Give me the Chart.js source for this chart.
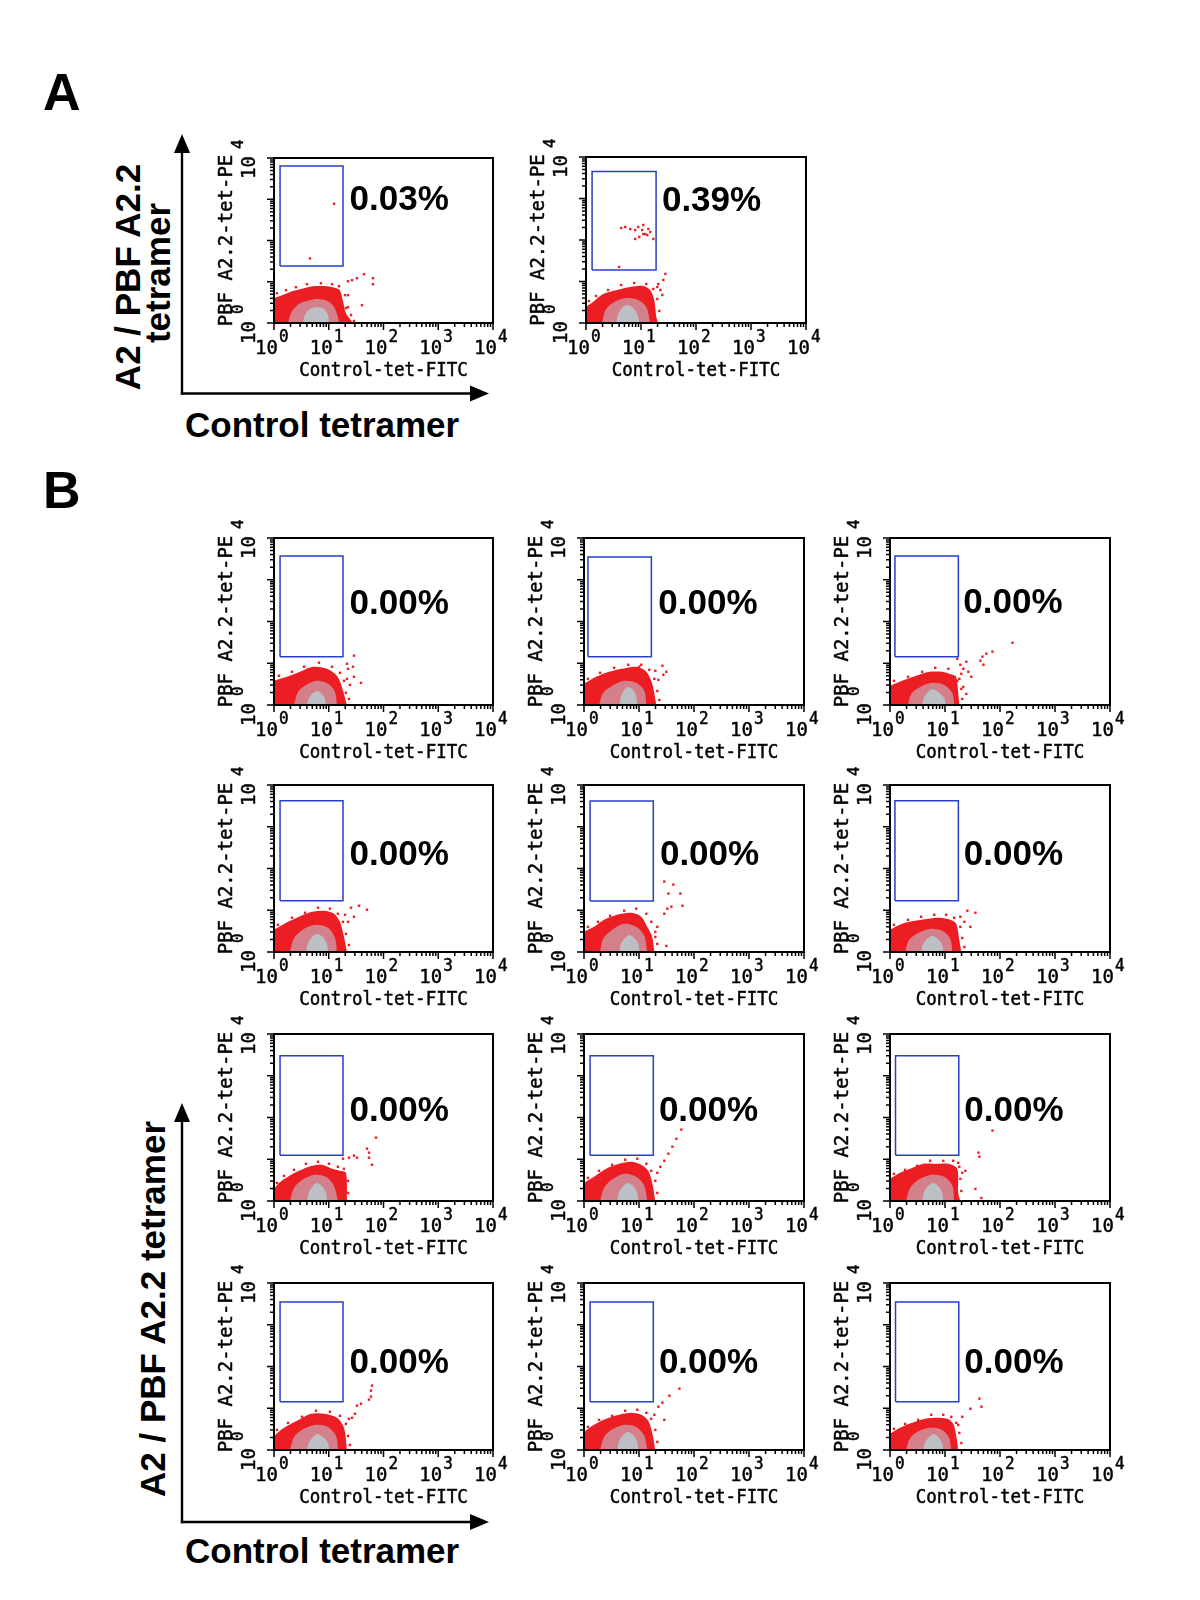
<!DOCTYPE html>
<html>
<head>
<meta charset="UTF-8">
<title>PBF A2.2 tetramer staining</title>
<style>
html, body { margin: 0; padding: 0; background: #fff; }
#fig { position: relative; width: 1200px; height: 1600px; overflow: hidden; background: #fff; }
#fig svg { position: absolute; left: 0; top: 0; }
#fig canvas { position: absolute; }
</style>
</head>
<body>
<script src="https://cdn.jsdelivr.net/npm/chart.js"></script>

<div id="fig">
<svg width="1200" height="1600" font-family="Liberation Sans, Arial, Helvetica, sans-serif" font-weight="bold">
  <text x="43" y="110" font-size="52">A</text>
  <text x="43" y="508" font-size="52">B</text>
  <text transform="translate(140 277) rotate(-90)" text-anchor="middle" font-size="35">A2 / PBF A2.2</text>
  <text transform="translate(170 273) rotate(-90)" text-anchor="middle" font-size="35">tetramer</text>
  <text x="185" y="437" font-size="35">Control tetramer</text>
  <text transform="translate(165 1309) rotate(-90)" text-anchor="middle" font-size="35">A2 / PBF A2.2 tetramer</text>
  <text x="185" y="1563" font-size="35">Control tetramer</text>
  <g stroke="#000" stroke-width="2.4">
    <line x1="182" y1="394.7" x2="182" y2="150"/>
    <line x1="180.8" y1="393.5" x2="472" y2="393.5"/>
    <line x1="182" y1="1523.2" x2="182" y2="1120"/>
    <line x1="180.8" y1="1522" x2="472" y2="1522"/>
  </g>
  <g fill="#000">
    <polygon points="182,134 174,153 190,153"/>
    <polygon points="489,393.5 470,385.5 470,401.5"/>
    <polygon points="182,1103 174,1122 190,1122"/>
    <polygon points="489,1522 470,1514 470,1530"/>
  </g>
</svg>
</div>

<script>
// ---- data (fluorescence units) ----
const plotNames = ['A-1', 'A-2', 'B-1', 'B-2', 'B-3', 'B-4', 'B-5', 'B-6', 'B-7', 'B-8', 'B-9', 'B-10', 'B-11', 'B-12'];
const percentText = ['0.03%', '0.39%', '0.00%', '0.00%', '0.00%', '0.00%', '0.00%', '0.00%',
                     '0.00%', '0.00%', '0.00%', '0.00%', '0.00%', '0.00%'];
// where the percentage sits (x, y in data units, left / middle anchored)
const percentAt = [[24, 920], [24, 870], [24, 260], [22.5, 260], [21.5, 270], [24, 211], [24, 211], [22, 211],
                   [24, 143], [23, 143], [22.5, 143], [24, 118], [23, 118], [22.5, 118]];
// gate: x from, x to, y from, y to
const gates = [
  [1.29, 18.2, 24, 6400], [1.29, 18.8, 19, 4500],
  [1.29, 18.2, 14.4, 3700], [1.18, 16.8, 14.4, 3500], [1.23, 17.5, 14.4, 3700],
  [1.29, 18.2, 17, 4200], [1.29, 18.2, 16.6, 4150], [1.23, 17.5, 17, 4200],
  [1.29, 18.2, 12.5, 3000], [1.29, 18.2, 12.5, 3000], [1.26, 17.8, 12.5, 3000],
  [1.29, 18.2, 14.4, 3500], [1.29, 18.2, 14.4, 3500], [1.26, 17.8, 14.4, 3500]
];
// upper edge of the dense red population
const redTop = [
  [[1, 4.0], [1.4, 4.73], [2.13, 5.9], [2.98, 6.6], [5.16, 7.79], [9.3, 7.79], [13.6, 6.97], [16.0, 6.24], [18.2, 3.39], [20.6, 1.74], [24.4, 1.25], [27.7, 1]],
  [[1, 2.43], [1.34, 3.21], [2.04, 5.0], [3.68, 6.24], [6.37, 7.37], [11.0, 7.79], [14.7, 6.24], [17.4, 3.58], [19.0, 1.4], [20.6, 1]],
  [[1, 3.79], [1.29, 4.23], [1.73, 4.73], [2.98, 6.24], [5.16, 8.24], [9.3, 7.37], [14.1, 5.0], [17.4, 2.71], [21.5, 1]],
  [[1, 3.21], [1.66, 4.73], [2.86, 6.24], [4.94, 7.37], [8.9, 8.24], [13.6, 6.24], [17.4, 3.21], [20.6, 1]],
  [[1, 2.87], [1.66, 3.79], [2.98, 5.0], [5.16, 6.24], [8.9, 6.24], [13.6, 5.28], [16.0, 4.73], [17.4, 1.95], [18.2, 1]],
  [[1, 3.39], [1.66, 5.0], [2.86, 7.0], [4.94, 9.2], [8.18, 9.73], [12.5, 8.24], [16.0, 5.28], [19.0, 2.3], [21.5, 1]],
  [[1, 3.03], [1.52, 4.0], [2.32, 5.9], [4.0, 7.79], [7.2, 8.71], [11.0, 6.97], [14.1, 4.0], [17.4, 2.3], [19.0, 1]],
  [[1, 3.39], [1.66, 4.73], [2.86, 5.58], [4.94, 6.24], [8.18, 6.6], [12.5, 5.9], [16.0, 4.73], [18.2, 1.95], [19.8, 1]],
  [[1, 1.95], [1.23, 2.71], [1.66, 3.58], [2.86, 5.28], [4.94, 6.97], [7.52, 7.37], [11.5, 5.9], [16.0, 5.28], [20.6, 4.73], [21.5, 1]],
  [[1, 2.71], [1.52, 3.79], [2.52, 5.9], [4.36, 7.79], [7.2, 8.71], [11.0, 7.37], [14.7, 5.28], [17.4, 2.71], [19.8, 1]],
  [[1, 3.39], [1.52, 4.73], [2.32, 5.9], [4.0, 7.79], [7.2, 7.79], [11.5, 7.79], [16.7, 5.9], [17.4, 1.56], [19.0, 1]],
  [[1, 2.17], [1.52, 3.39], [2.63, 5.0], [4.74, 7.37], [8.18, 7.37], [14.1, 5.9], [19.0, 3.39], [21.5, 1]],
  [[1, 2.71], [1.52, 4.0], [2.52, 5.58], [4.36, 6.97], [7.2, 7.79], [11.0, 6.97], [14.7, 5.0], [17.4, 2.57], [19.8, 1]],
  [[1, 2.43], [1.52, 3.39], [2.52, 4.47], [4.36, 5.58], [7.2, 5.9], [11.0, 5.58], [14.1, 4.23], [16.0, 2.17], [17.4, 1]]
];
// upper edge of the darker (overlapping) zone
const midTop = [
  [[1.8, 1], [2.13, 1.95], [2.98, 3.03], [4.54, 3.58], [6.63, 3.79], [9.7, 3.39], [12.5, 2.43], [14.7, 1.4], [15.4, 1]],
  [[1.96, 1], [2.32, 2.17], [3.53, 3.39], [5.61, 4.0], [8.9, 3.58], [12.5, 2.43], [14.7, 1]],
  [[2.32, 1], [2.74, 2.06], [3.84, 3.03], [6.1, 3.79], [9.7, 3.21], [13.0, 2.06], [14.1, 1]],
  [[1.88, 1], [2.22, 1.95], [3.25, 2.87], [5.37, 3.79], [8.9, 3.39], [12.5, 2.17], [13.6, 1]],
  [[2.13, 1], [2.42, 1.84], [3.53, 2.71], [5.84, 3.39], [9.7, 3.03], [13.6, 1.95], [14.7, 1]],
  [[1.96, 1], [2.32, 2.17], [3.53, 3.58], [5.84, 4.47], [9.7, 3.79], [13.0, 2.17], [14.1, 1]],
  [[1.96, 1], [2.22, 2.06], [3.25, 3.39], [5.37, 4.73], [8.9, 4.0], [12.5, 2.43], [14.1, 1]],
  [[1.88, 1], [2.22, 1.95], [3.25, 2.87], [5.37, 3.58], [8.9, 3.21], [12.5, 2.06], [13.6, 1]],
  [[1.96, 1], [2.32, 2.06], [3.53, 3.39], [5.61, 4.23], [8.9, 3.79], [12.5, 2.3], [14.7, 1]],
  [[1.96, 1], [2.32, 2.06], [3.39, 3.39], [5.61, 4.47], [8.9, 3.79], [12.5, 2.3], [14.1, 1]],
  [[1.96, 1], [2.32, 2.06], [3.53, 3.39], [5.84, 4.23], [9.7, 3.79], [13.6, 2.3], [14.7, 1]],
  [[1.96, 1], [2.32, 2.06], [3.53, 3.21], [5.84, 4.0], [9.7, 3.58], [13.6, 2.17], [14.7, 1]],
  [[1.96, 1], [2.32, 2.06], [3.39, 3.21], [5.61, 4.0], [8.9, 3.58], [12.5, 2.17], [14.1, 1]],
  [[1.96, 1], [2.32, 1.95], [3.39, 2.87], [5.61, 3.39], [8.9, 3.03], [11.9, 1.95], [13.0, 1]]
];
// upper edge of the grey, densest core
const coreTop = [
  [[3.39, 1], [3.68, 1.56], [4.54, 2.17], [6.1, 2.43], [8.18, 2.17], [9.7, 1.56], [10.1, 1]],
  [[3.53, 1], [3.84, 1.65], [4.54, 2.3], [5.61, 2.71], [7.2, 2.3], [8.54, 1.65], [9.3, 1]],
  [[4.0, 1], [4.36, 1.47], [4.94, 1.84], [6.1, 2.17], [7.52, 1.84], [8.54, 1.4], [8.9, 1]],
  [[4.36, 1], [4.74, 1.65], [5.37, 2.3], [6.37, 2.71], [7.84, 2.3], [8.9, 1.65], [9.3, 1]],
  [[3.84, 1], [4.18, 1.56], [4.94, 2.06], [5.84, 2.43], [7.52, 2.06], [9.7, 1.47], [10.5, 1]],
  [[3.84, 1], [4.18, 1.65], [4.94, 2.3], [6.1, 2.71], [7.84, 2.3], [9.3, 1.56], [9.7, 1]],
  [[4.36, 1], [4.74, 1.65], [5.61, 2.17], [6.63, 2.57], [8.18, 2.17], [9.7, 1.56], [10.1, 1]],
  [[3.68, 1], [4.0, 1.56], [4.74, 2.06], [5.84, 2.43], [7.52, 2.06], [8.9, 1.47], [9.3, 1]],
  [[4.0, 1], [4.36, 1.65], [5.16, 2.3], [6.1, 2.71], [7.52, 2.3], [8.9, 1.56], [9.3, 1]],
  [[4.0, 1], [4.36, 1.65], [5.16, 2.3], [6.37, 2.71], [7.84, 2.3], [9.3, 1.56], [9.7, 1]],
  [[3.84, 1], [4.18, 1.65], [4.94, 2.3], [6.1, 2.71], [7.52, 2.3], [8.9, 1.56], [9.3, 1]],
  [[4.0, 1], [4.36, 1.56], [5.16, 2.06], [6.1, 2.43], [7.84, 2.06], [9.7, 1.47], [10.1, 1]],
  [[4.0, 1], [4.36, 1.65], [5.16, 2.3], [6.37, 2.71], [7.84, 2.3], [9.3, 1.56], [9.7, 1]],
  [[4.0, 1], [4.36, 1.56], [5.16, 2.06], [6.1, 2.43], [7.52, 2.06], [8.9, 1.47], [9.3, 1]]
];
// sparse cells scattered along the rim of the dense population
const rimEvents = [
  [[1.13, 5.28], [1.66, 6.24], [2.52, 7.37], [4.0, 8.71], [7.2, 9.2], [11.5, 8.71], [15.4, 7.79], [19.8, 4.73], [22.5, 2.43], [25.5, 1.56]],
  [[1.13, 3.39], [1.52, 4.47], [2.52, 6.24], [4.36, 8.24], [7.52, 9.2], [12.5, 8.71], [16.7, 6.6], [19.8, 3.79], [21.5, 1.95]],
  [[1.23, 5.0], [2.13, 6.24], [3.53, 8.24], [6.63, 10.3], [11.5, 8.24], [16.0, 5.9], [19.0, 3.79], [20.6, 1.95], [23.4, 1.4]],
  [[1.18, 4.23], [1.96, 5.9], [3.53, 7.79], [6.37, 9.2], [11.0, 9.2], [15.4, 6.97], [19.0, 4.23], [21.5, 2.17], [23.4, 1.32]],
  [[1.18, 3.79], [2.13, 4.73], [3.84, 6.24], [6.63, 7.79], [11.5, 7.37], [18.2, 4.23], [19.8, 2.43], [20.6, 1.4]],
  [[1.18, 4.47], [2.13, 6.6], [3.68, 8.71], [6.37, 11.5], [10.5, 10.9], [14.7, 8.24], [18.2, 5.28], [20.6, 2.71], [23.4, 1.47]],
  [[1.18, 4.0], [1.8, 5.28], [2.98, 7.37], [5.37, 9.73], [8.9, 10.9], [13.6, 8.24], [16.7, 5.28], [19.8, 3.03], [21.5, 1.56]],
  [[1.18, 4.47], [2.13, 5.9], [3.68, 6.97], [6.37, 7.79], [10.5, 7.79], [14.7, 6.6], [19.0, 4.0], [20.6, 2.17], [22.5, 1.32]],
  [[1.13, 2.71], [1.52, 4.0], [2.32, 5.58], [3.84, 7.79], [6.37, 8.71], [10.1, 7.79], [14.7, 6.6], [19.0, 5.9], [22.5, 3.03], [22.5, 1.56]],
  [[1.18, 3.58], [1.88, 5.28], [3.25, 7.37], [5.61, 9.73], [9.3, 10.3], [13.6, 7.79], [16.7, 5.28], [19.8, 3.03], [21.5, 1.56]],
  [[1.18, 4.47], [1.88, 5.58], [3.11, 6.97], [5.37, 9.2], [9.3, 9.2], [14.1, 9.2], [18.2, 6.6], [19.0, 3.39], [19.8, 1.74]],
  [[1.13, 3.03], [1.8, 4.47], [3.25, 6.24], [5.84, 8.71], [10.5, 8.24], [16.0, 6.6], [20.6, 4.23], [22.5, 2.17], [24.4, 1.32]],
  [[1.18, 3.58], [1.88, 5.28], [3.25, 6.6], [5.61, 8.71], [9.3, 9.2], [13.6, 7.79], [16.7, 5.58], [19.8, 3.03], [21.5, 1.56]],
  [[1.18, 3.21], [1.88, 4.23], [3.25, 5.28], [5.61, 6.97], [9.3, 6.97], [13.0, 6.24], [16.0, 4.47], [18.2, 2.57], [19.8, 1.47]]
];
// single events away from the population
const events = [
  [[12.5, 779], [4.54, 36.8], [22.5, 10.3], [26.6, 10.9], [32.8, 12.2], [44, 15.2], [64.2, 12.2], [64.2, 8.71], [40.5, 2.71], [22.5, 4.73], [20.6, 2.3], [28.9, 1.12]],
  [[4.36, 195], [5.16, 206], [6.37, 184], [7.84, 174], [8.9, 206], [10.5, 174], [11.0, 230], [11.9, 139], [13.0, 132], [13.6, 184], [14.7, 156], [16.7, 106],
   [7.84, 106], [9.3, 118], [11.0, 139], [4.0, 22.4], [27.7, 15.2], [25.5, 10.9], [20.6, 8.71], [19.8, 7.37], [24.4, 4.73], [22.5, 6.24]],
  [[21.5, 9.73], [28.9, 15.2], [22.5, 7.37], [27.7, 8.24], [21.5, 4.23], [38.8, 3.39], [28.9, 4.73], [24.4, 3.03]],
  [[26.6, 8.71], [31.4, 6.24], [27.7, 5.28], [10.1, 8.24], [22.5, 4.0], [19.8, 6.6]],
  [[16.7, 3.79], [19.8, 5.58], [21.5, 7.37], [24.4, 10.9], [26.6, 6.24], [21.5, 2.71], [24.4, 1.84], [30.1, 4.73], [44, 11.5], [47.9, 14.4],
   [56.6, 17.0], [72.9, 19.0], [50, 9.2], [169, 31], [16.7, 12.8], [19.0, 9.2]],
  [[25.5, 11.5], [35.7, 12.8], [50, 10.3], [19.8, 7.79], [22.5, 5.28], [28.9, 6.97]],
  [[28.9, 48.6], [42.2, 41.1], [34.2, 25], [56.6, 25], [28.9, 8.24], [32.8, 10.9], [38.8, 12.2], [61.6, 12.8], [21.5, 4.0], [31.4, 1.4], [19.8, 2.3]],
  [[25.5, 9.73], [35.7, 8.71], [19.0, 6.97], [22.5, 5.28], [28.9, 4.0]],
  [[72.9, 32.9], [50, 17.9], [54.3, 14.4], [61.6, 7.37], [23.4, 10.9], [28.9, 12.2], [32.8, 10.9], [18.2, 10.3], [54.3, 10.9]],
  [[59, 51.4], [47.9, 31], [40.5, 20], [34.2, 13.6], [28.9, 9.2], [24.4, 6.6], [21.5, 4.73]],
  [[72.9, 48.6], [40.5, 14.4], [42.2, 11.5], [17.4, 8.24], [20.6, 4.73], [23.4, 5.28], [35.7, 1.95], [45.9, 1.18]],
  [[61.6, 34.8], [59, 26.4], [59, 19.0], [54.3, 16.1], [38.8, 12.8], [32.8, 11.5], [30.1, 7.37], [26.6, 5.9], [23.4, 5.58]],
  [[54.3, 29.5], [35.7, 20], [22.5, 10.9], [26.6, 13.6], [19.0, 6.97], [28.9, 5.28]],
  [[42.2, 17.0], [28.9, 9.73], [45.9, 10.9], [20.6, 6.24], [17.4, 4.0]]
];
const decades = [1, 10, 100, 1000, 10000];
const decadeExp = ['0', '1', '2', '3', '4'];
const xTitle = 'Control-tet-FITC';
const yTitle = 'PBF A2.2-tet-PE';

// ---- layout (plot frame: left, top, width, height in page px) ----
const rowTop = [538, 785, 1034, 1283];
const colLeft = [274, 584, 890];
const frames = [[274, 158, 219, 165], [586, 157, 220, 166]];
rowTop.forEach(t => colLeft.forEach((l, c) => frames.push([l, t, c === 0 ? 219 : 220, 167])));

const RED = 'rgb(236,30,36)';
const MID = 'rgb(212,128,138)';
const CORE = 'rgb(188,192,196)';
const GATE = 'rgb(40,62,206)';
const MONO = '"DejaVu Sans Mono", "Liberation Mono", monospace';
const SANS = '"Liberation Sans", Arial, Helvetica, sans-serif';
const PAD = { left: 80, top: 35, right: 32, bottom: 62 };

const toXY = p => ({ x: p[0], y: p[1] });

// cytometer print: slightly tall, slightly heavy
function monoText(ctx, txt, x, y, size, align, rotate, sy) {
	ctx.save();
	ctx.translate(x, y);
	if (rotate) ctx.rotate(-Math.PI / 2);
	ctx.scale(1, sy || 1);
	ctx.font = size + 'px ' + MONO;
	ctx.textAlign = align;
	ctx.textBaseline = 'alphabetic';
	ctx.lineWidth = 0.45;
	ctx.fillText(txt, 0, 0);
	ctx.strokeText(txt, 0, 0);
	ctx.restore();
}

function axesPlugin(i) {
	return {
		id: 'flowAxes',
		afterDraw(chart) {
			const { ctx, chartArea: a, scales: { x, y } } = chart;
			ctx.save();
			ctx.fillStyle = '#000';
			ctx.strokeStyle = '#000';

			// frame
			ctx.lineWidth = 2;
			ctx.strokeRect(a.left, a.top, a.right - a.left, a.bottom - a.top);

			// log ticks, outside, on bottom and left
			ctx.lineWidth = 1.5;
			ctx.beginPath();
			decades.slice(0, 4).forEach(d => {
				for (let k = 1; k < 10; k++) {
					const len = k === 1 ? 7 : 4;
					const px = x.getPixelForValue(d * k);
					const py = y.getPixelForValue(d * k);
					ctx.moveTo(px, a.bottom); ctx.lineTo(px, a.bottom + len);
					ctx.moveTo(a.left, py); ctx.lineTo(a.left - len, py);
				}
			});
			ctx.moveTo(x.getPixelForValue(10000), a.bottom); ctx.lineTo(x.getPixelForValue(10000), a.bottom + 7);
			ctx.moveTo(a.left, y.getPixelForValue(10000)); ctx.lineTo(a.left - 7, y.getPixelForValue(10000));
			ctx.stroke();

			// x tick labels 10^n
			decades.forEach((d, j) => {
				const px = x.getPixelForValue(d) - 19;
				monoText(ctx, '10', px, a.bottom + 31, 19, 'left', false, 1.05);
				monoText(ctx, decadeExp[j], px + 24, a.bottom + 19, 16, 'left', false, 1.05);
			});
			monoText(ctx, xTitle, (a.left + a.right) / 2, a.bottom + 53, 17.5, 'center', false, 1.08);

			// y tick labels (only first and last decade), rotated
			[0, 4].forEach(j => {
				const py = y.getPixelForValue(decades[j]);
				monoText(ctx, '10', a.left - 19, py + 21, 19, 'left', true);
				monoText(ctx, decadeExp[j], a.left - 31, py - 9, 16, 'left', true);
			});
			monoText(ctx, yTitle, a.left - 42, (a.top + a.bottom) / 2, 19, 'center', true);

			// gate frequency
			ctx.font = 'bold 35px ' + SANS;
			ctx.textAlign = 'left';
			ctx.textBaseline = 'middle';
			ctx.fillText(percentText[i], x.getPixelForValue(percentAt[i][0]), y.getPixelForValue(percentAt[i][1]));
			ctx.restore();
		}
	};
}

function buildPlot(i) {
	const [L, T, W, H] = frames[i];
	const cv = document.createElement('canvas');
	cv.id = 'plot-' + plotNames[i];
	cv.width = W + PAD.left + PAD.right;
	cv.height = H + PAD.top + PAD.bottom;
	cv.style.left = (L - PAD.left) + 'px';
	cv.style.top = (T - PAD.top) + 'px';
	cv.style.width = cv.width + 'px';
	cv.style.height = cv.height + 'px';
	document.getElementById('fig').appendChild(cv);

	const g = gates[i];
	const gatePts = [[g[0], g[2]], [g[0], g[3]], [g[1], g[3]], [g[1], g[2]], [g[0], g[2]]];
	const area = (pts, color, order) => ({
		data: pts.map(toXY), order: order,
		borderWidth: 0, pointRadius: 0, tension: 0.3,
		fill: { value: 1 }, backgroundColor: color
	});
	const dots = (pts, order) => ({
		data: pts.map(toXY), order: order, showLine: false,
		pointStyle: 'rect', pointRadius: 1.7, pointBackgroundColor: RED, pointBorderWidth: 0
	});

	new Chart(cv, {
		type: 'line',
		data: {
			datasets: [
				{ data: gatePts.map(toXY), order: 0, borderColor: GATE, borderWidth: 1.5, pointRadius: 0, fill: false, tension: 0 },
				dots(events[i], 1),
				dots(rimEvents[i], 2),
				area(coreTop[i], CORE, 3),
				area(midTop[i], MID, 4),
				area(redTop[i], RED, 5)
			]
		},
		options: {
			responsive: false,
			animation: false,
			events: [],
			layout: { padding: PAD },
			plugins: { legend: { display: false }, tooltip: { enabled: false } },
			scales: {
				x: { type: 'logarithmic', min: 1, max: 10000, display: false },
				y: { type: 'logarithmic', min: 1, max: 10000, display: false }
			}
		},
		plugins: [axesPlugin(i)]
	});
}

plotNames.forEach((n, i) => buildPlot(i));
</script>
</body>
</html>
